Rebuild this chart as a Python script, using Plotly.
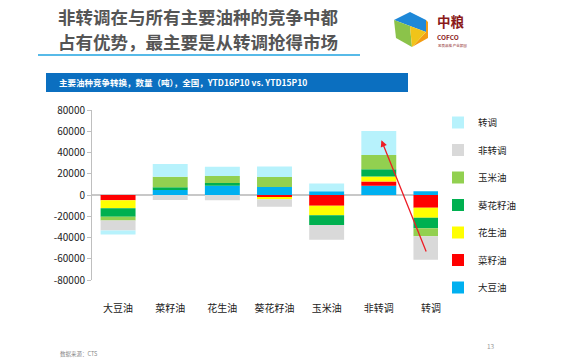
import plotly.graph_objects as go

categories = ["大豆油", "菜籽油", "花生油", "葵花籽油", "玉米油", "非转调", "转调"]

series_names = ["大豆油", "菜籽油", "花生油", "葵花籽油", "玉米油", "非转调", "转调"]
soybean   = [0, 4700, 8800, 7500, 3500, 8800, 3500]
rapeseed  = [-5000, 0, 0, -2500, -10000, 3800, -12000]
peanut    = [-7500, 0, 0, -1500, -9000, 4700, -9400]
sunflower = [-8000, 2500, 2500, 0, -9200, 6900, -10000]
corn      = [-3500, 10000, 6600, 9400, 0, 13500, -7500]
nonblend  = [-9500, -4700, -5000, -7000, -13800, 0, -22000]
blend     = [-3700, 12000, 8800, 10000, 7300, 22600, 0]
series_values = [soybean, rapeseed, peanut, sunflower, corn, nonblend, blend]
colors = ["#00b0f0", "#ff0000", "#ffff00", "#00b050", "#92d050", "#d9d9d9", "#b7f2fc"]

y_ticks = [80000, 60000, 40000, 20000, 0, -20000, -40000, -60000, -80000]

FONT = "Noto Sans CJK SC"
W, H = 570, 360

def cx(p):
    return p / W

def cy(p):
    return 1 - p / H

fig = go.Figure()
n = len(series_names)
for i, (name, vals, col) in enumerate(zip(series_names, series_values, colors)):
    fig.add_trace(go.Bar(x=categories, y=vals, name=name, marker_color=col,
                         marker_line_width=0, legendgroup=name, legendrank=n - i))

fig.update_layout(
    width=W, height=H,
    margin=dict(l=92, r=113, t=110, b=80, autoexpand=False),
    paper_bgcolor="white", plot_bgcolor="white",
    barmode="relative", bargap=0.33,
    font=dict(family=FONT, size=10, color="#222222"),
    showlegend=True,
    legend=dict(x=cx(438), y=cy(108), xref="container", yref="container",
                xanchor="left", yanchor="top",
                traceorder="grouped", tracegroupgap=8.5,
                font=dict(size=9.5, color="#222222"), itemwidth=30),
    xaxis=dict(showline=False, ticks="", tickfont=dict(size=10), showgrid=False,
               ticklabelstandoff=21),
    yaxis=dict(range=[-80000, 80000], tickvals=y_ticks, ticktext=[str(v) for v in y_ticks],
               showline=True, linecolor="#bfbfbf", linewidth=1, ticks="outside",
               ticklen=4, tickcolor="#bfbfbf", showgrid=False,
               zeroline=True, zerolinecolor="#c8c8c8", zerolinewidth=1.5,
               tickfont=dict(size=10)),
)
try:
    fig.update_layout(legend_maxheight=240)
except Exception:
    pass

# arrow from 转调 to 非转调
fig.add_annotation(x=5.05, y=51500, ax=5.92, ay=-54500, xref="x", yref="y",
                   axref="x", ayref="y", showarrow=True, arrowhead=2,
                   arrowsize=1, arrowwidth=1.3, arrowcolor="#ee1c25", text="")

def px_x(p):
    return (p - 92) / 365

def px_y(p):
    return (280 - p) / 170

# Title
title_lines = ["非转调在与所有主要油种的竞争中都", "占有优势，最主要是从转调抢得市场"]
for i, line in enumerate(title_lines):
    fig.add_annotation(x=px_x(198), y=px_y(16 + 25 * i), xref="paper", yref="paper",
                       xanchor="center", yanchor="middle", showarrow=False,
                       text="<b>" + line + "</b>", font=dict(size=17.5, color="#555555", family=FONT))

# blue underline
fig.add_shape(type="line", xref="paper", yref="paper", x0=px_x(38), x1=px_x(360),
              y0=px_y(55), y1=px_y(55), line=dict(color="#1fa3e0", width=1.5))
# blue header box
fig.add_shape(type="rect", xref="paper", yref="paper", x0=px_x(46), x1=px_x(408),
              y0=px_y(73), y1=px_y(92), fillcolor="#0b6fc0", line=dict(width=0), layer="below")
fig.add_annotation(x=px_x(57), y=px_y(82.5), xref="paper", yref="paper", xanchor="left",
                   yanchor="middle", showarrow=False,
                   text="<b>主要油种竞争转换，数量（吨），全国，YTD16P10 vs. YTD15P10</b>",
                   font=dict(size=8.5, color="white", family=FONT))

# logo cube
cube_paths = [
    ("#1e88d8", [(410, 12), (426, 20), (426, 32), (410, 26), (394, 20)]),
    ("#f39c12", [(426, 32), (426, 20), (428, 22), (428, 38), (412, 47)]),
    ("#8bc34a", [(394, 20), (410, 26), (412, 47), (396, 38)]),
    ("#f0c419", [(410, 26), (426, 32), (412, 47)]),
]
for col, pts in cube_paths:
    path = "M " + " L ".join(f"{px_x(a):.4f},{px_y(b):.4f}" for a, b in pts) + " Z"
    fig.add_shape(type="path", xref="paper", yref="paper", path=path,
                  fillcolor=col, line=dict(width=0))
fig.add_annotation(x=px_x(435), y=px_y(21), xref="paper", yref="paper", showarrow=False,
                   xanchor="left", yanchor="middle", text="<b>中粮</b>",
                   font=dict(size=13.5, color="#8b1a1a", family=FONT))
fig.add_annotation(x=px_x(435), y=px_y(36.5), xref="paper", yref="paper", showarrow=False,
                   xanchor="left", yanchor="middle", text="<b>COFCO</b>",
                   font=dict(size=6.5, color="#8b1a1a", family=FONT))
fig.add_annotation(x=px_x(436), y=px_y(45), xref="paper", yref="paper", showarrow=False,
                   xanchor="left", yanchor="middle", text="忠良品格 产业报国",
                   font=dict(size=3.5, color="#8b1a1a", family=FONT))

# footer
fig.add_annotation(x=px_x(58), y=px_y(354), xref="paper", yref="paper", xanchor="left",
                   yanchor="middle", showarrow=False, text="数据来源：CTS",
                   font=dict(size=5.5, color="#888888", family=FONT))
fig.add_annotation(x=px_x(497), y=px_y(346), xref="paper", yref="paper", xanchor="right",
                   yanchor="middle", showarrow=False, text="13",
                   font=dict(size=6.5, color="#999999", family=FONT))

fig.write_html("out.html", config={"displayModeBar": False},
               post_script="document.body.style.margin='0';document.body.style.overflow='hidden';")
